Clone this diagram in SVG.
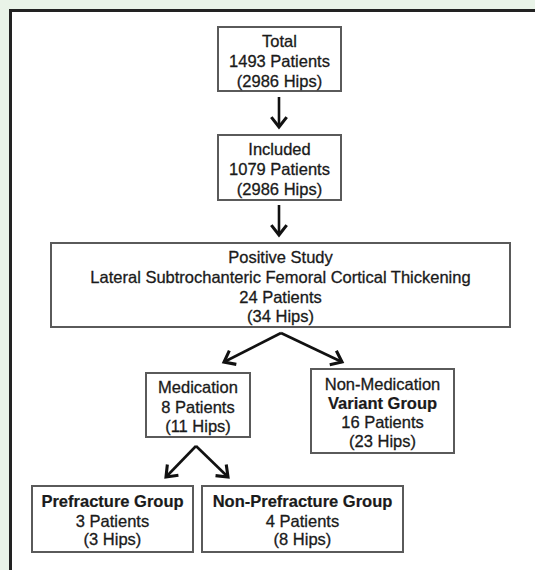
<svg xmlns="http://www.w3.org/2000/svg" width="535" height="570" viewBox="0 0 535 570">
<style>
.box{fill:#fff;stroke:#5a5a5a;stroke-width:2}
text{font-family:"Liberation Sans",Arial,sans-serif;font-size:16.5px;fill:#1a1a1a;stroke:#1a1a1a;stroke-width:0.3;text-anchor:middle}
.b{font-weight:bold;stroke-width:0.2}
.conn line{stroke:#111;stroke-width:2.6;fill:none}
</style>
<defs>
<marker id="ah" markerUnits="userSpaceOnUse" markerWidth="22" markerHeight="22" refX="0" refY="0" viewBox="-12 -10 14 20" orient="auto">
<path d="M-9,-7 L0,0 L-9,7" fill="none" stroke="#111" stroke-width="2.8" stroke-linejoin="miter"/>
</marker>
</defs>
<rect x="0" y="0" width="535" height="570" fill="#e9f3e8"/>
<rect x="10.5" y="10.5" width="600" height="600" fill="#fff" stroke="#222" stroke-width="3"/>
<g id="total"><rect class="box" x="218" y="27" width="123" height="64"/>
<text x="279.5" y="46.5">Total</text><text x="279.5" y="66.5">1493 Patients</text><text x="279.5" y="86.5">(2986 Hips)</text></g>
<g id="included"><rect class="box" x="218" y="135" width="123" height="65"/>
<text x="279.5" y="154.5">Included</text><text x="279.5" y="174.5">1079 Patients</text><text x="279.5" y="194.5">(2986 Hips)</text></g>
<g id="positive"><rect class="box" x="51" y="243" width="459" height="84"/>
<text x="280.5" y="263">Positive Study</text><text x="280.5" y="283">Lateral Subtrochanteric Femoral Cortical Thickening</text><text x="280.5" y="302.5">24 Patients</text><text x="280.5" y="322">(34 Hips)</text></g>
<g id="medication"><rect class="box" x="146" y="373" width="104" height="64"/>
<text x="198" y="393">Medication</text><text x="198" y="413">8 Patients</text><text x="198" y="432">(11 Hips)</text></g>
<g id="nonmedication"><rect class="box" x="311" y="369" width="143" height="84"/>
<text x="382.5" y="390">Non-Medication</text><text class="b" x="382.5" y="409">Variant Group</text><text x="382.5" y="428">16 Patients</text><text x="382.5" y="447">(23 Hips)</text></g>
<g id="prefracture"><rect class="box" x="32" y="486" width="161" height="66"/>
<text class="b" x="112.5" y="507">Prefracture Group</text><text x="112.5" y="527">3 Patients</text><text x="112.5" y="545">(3 Hips)</text></g>
<g id="nonprefracture"><rect class="box" x="202" y="486" width="201" height="66"/>
<text class="b" x="302.5" y="507">Non-Prefracture Group</text><text x="302.5" y="527">4 Patients</text><text x="302.5" y="545">(8 Hips)</text></g>
<g class="conn" id="connectors">
<line x1="279" y1="97" x2="279" y2="127" marker-end="url(#ah)"/>
<line x1="279" y1="205" x2="279" y2="235" marker-end="url(#ah)"/>
<line x1="281" y1="333" x2="224" y2="362" marker-end="url(#ah)"/>
<line x1="281" y1="333" x2="342" y2="362" marker-end="url(#ah)"/>
<line x1="196" y1="446" x2="166" y2="477" marker-end="url(#ah)"/>
<line x1="196" y1="446" x2="228" y2="477" marker-end="url(#ah)"/>
</g>
</svg>
